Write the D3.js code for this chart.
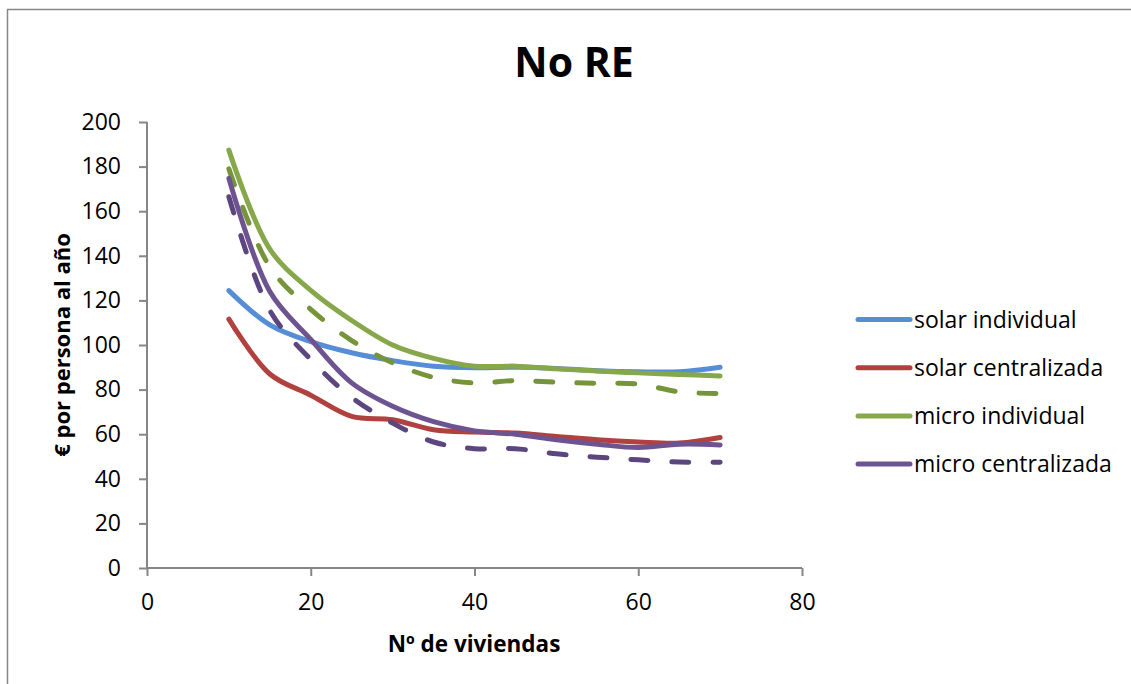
<!DOCTYPE html>
<html>
<head>
<meta charset="utf-8">
<script src="https://cdn.jsdelivr.net/npm/d3@7"></script>
<style>
  body { margin: 0; background: #fff; }
  text { font-family: "Open Sans", "Noto Sans", sans-serif; fill: #000; }
</style>
</head>
<body>
<svg id="chart"></svg>
<script>
// data
var viviendas = [10, 15, 20, 25, 30, 35, 40, 45, 50, 55, 60, 65, 70];

var solarIndividual   = [124.4, 109, 101.5, 96.5, 93, 90.5, 89.8, 90, 89.5, 88.5, 88, 88, 90];
var solarCentral      = [111.6, 87, 77.5, 68, 66.5, 62, 61, 60.5, 59, 57.5, 56.5, 56, 58.5];
var microIndividual   = [187.4, 143, 124.5, 111, 100, 94, 90.5, 90.5, 89.3, 88.3, 87.5, 86.8, 86.1];
var microCentral      = [174.7, 124, 102.5, 83, 72.5, 65.6, 61.5, 60, 57.5, 55.5, 54, 55.5, 55.2];
var microIndivDash    = [179, 135, 116, 102, 92, 85.5, 83, 84, 83.3, 82.8, 82.5, 79, 78.2];
var microCentralDash  = [166.5, 115.5, 93.5, 76.5, 65, 56.5, 53.5, 53.5, 51.2, 49.7, 48.5, 47.5, 47.4];

var xTicks = [0, 20, 40, 60, 80];
var yTicks = [0, 20, 40, 60, 80, 100, 120, 140, 160, 180, 200];

var series = [
  { name: "solar individual",   values: solarIndividual,  color: "#558ed5", dash: null, legend: true },
  { name: "solar centralizada", values: solarCentral,     color: "#b0413e", dash: null, legend: true },
  { name: "micro individual",   values: microIndividual,  color: "#86a84a", dash: null, legend: true },
  { name: "micro centralizada", values: microCentral,     color: "#6e5391", dash: null, legend: true },
  { name: "micro individual 2", values: microIndivDash,   color: "#76943a", dash: "17,24", legend: false },
  { name: "micro centralizada 2", values: microCentralDash, color: "#5c4680", dash: "17,24", legend: false }
];

var width = 1131, height = 684;
var svg = d3.select("#chart").attr("width", width).attr("height", height);

// outer frame
svg.append("path")
  .attr("d", "M7.5," + height + "V9.5H" + width)
  .attr("fill", "none").attr("stroke", "#868686").attr("stroke-width", 1.5);

var x = d3.scaleLinear().domain([0, 80]).range([147, 802]);
var y = d3.scaleLinear().domain([0, 200]).range([568, 122]);

var axisColor = "#868686";

// y axis
var yAxis = d3.axisLeft(y).tickValues(yTicks).tickSize(8).tickPadding(18);
var yG = svg.append("g").attr("transform", "translate(" + x(0) + ",0)").call(yAxis);
// x axis
var xAxis = d3.axisBottom(x).tickValues(xTicks).tickSize(8).tickPadding(18);
var xG = svg.append("g").attr("transform", "translate(0," + y(0) + ")").call(xAxis);

[yG, xG].forEach(function(g) {
  g.select(".domain").attr("stroke", axisColor).attr("stroke-width", 2);
  g.selectAll(".tick line").attr("stroke", axisColor).attr("stroke-width", 2);
  g.selectAll(".tick text").style("font-size", "23px").style("font-family", "'Open Sans', sans-serif").attr("fill", "#000");
});
xG.select(".domain").attr("d", "M" + x(0) + ",0H" + x(80));
yG.select(".domain").attr("d", "M0," + y(0) + "V" + y(200));

// lines
var line = d3.line()
  .x(function(d) { return x(d[0]); })
  .y(function(d) { return y(d[1]); })
  .curve(d3.curveCatmullRom.alpha(0.5));

var drawOrder = [0, 1, 4, 5, 2, 3];
drawOrder.forEach(function(i) {
  var s = series[i];
  svg.append("path")
    .datum(viviendas.map(function(v, j) { return [v, s.values[j]]; }))
    .attr("d", line)
    .attr("fill", "none")
    .attr("stroke", s.color)
    .attr("stroke-width", 5)
    .attr("stroke-linecap", "round")
    .attr("stroke-linejoin", "round")
    .attr("stroke-dasharray", s.dash);
});

// title
svg.append("text")
  .attr("x", 574).attr("y", 77)
  .attr("text-anchor", "middle")
  .style("font-size", "41px").style("font-weight", "bold")
  .text("No RE");

// axis titles
svg.append("text")
  .attr("transform", "translate(70,345) rotate(-90)")
  .attr("text-anchor", "middle")
  .style("font-size", "22px").style("font-weight", "bold")
  .text("€ por persona al año");

svg.append("text")
  .attr("x", 474).attr("y", 652)
  .attr("text-anchor", "middle")
  .style("font-size", "22.5px").style("font-weight", "bold")
  .text("Nº de viviendas");

// legend
var legend = svg.append("g");
series.filter(function(s) { return s.legend; }).forEach(function(s, i) {
  var ly = 319.5 + i * 48.2;
  legend.append("line")
    .attr("x1", 858).attr("x2", 910).attr("y1", ly).attr("y2", ly)
    .attr("stroke", s.color).attr("stroke-width", 5).attr("stroke-linecap", "round");
  legend.append("text")
    .attr("x", 914).attr("y", ly + 8)
    .style("font-size", "23px")
    .text(s.name);
});
</script>
</body>
</html>
